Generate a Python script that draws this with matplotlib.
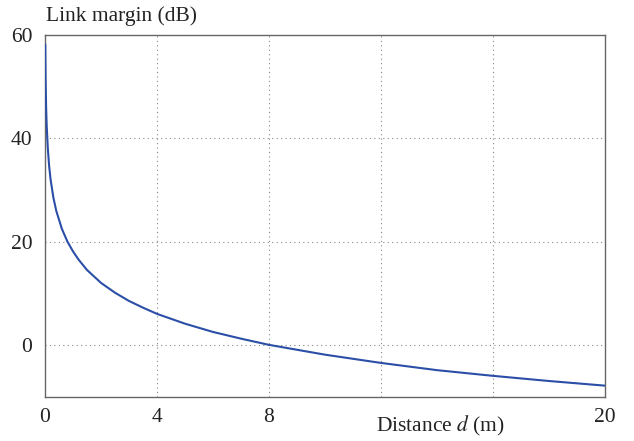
import matplotlib
matplotlib.use("Agg")
import matplotlib.pyplot as plt

# values
distance = [0.01, 0.02, 0.04, 0.06, 0.1, 0.15, 0.2, 0.3, 0.4, 0.6, 0.8, 1.0, 1.2,
            1.5, 2.0, 2.5, 3.0, 3.5, 4.0, 5.0, 6.0, 7.0, 8.0, 10.0, 12.0, 14.0,
            16.0, 18.0, 20.0]
margin = [58.1, 52.0, 46.0, 42.5, 38.1, 34.5, 32.0, 28.5, 26.0, 22.5, 20.0, 18.1,
          16.5, 14.5, 12.0, 10.1, 8.5, 7.2, 6.0, 4.1, 2.5, 1.2, 0.0, -1.9, -3.5,
          -4.9, -6.0, -7.0, -7.9]

x_ticks = [0, 4, 8, 20]
x_grid = [4, 8, 12, 16]
y_ticks = [0, 20, 40, 60]
y_grid = [0, 20, 40]

plt.rcParams["font.family"] = ["Liberation Serif", "DejaVu Serif"]
plt.rcParams["mathtext.fontset"] = "stix"

fig = plt.figure(figsize=(6.34, 4.41), dpi=100)
ax = fig.add_axes([45 / 634, 1 - 396.5 / 441, 560 / 634, 361.5 / 441])

ax.plot(distance, margin, color="#2b4ea6", lw=1.5, zorder=3)

ax.set_xlim(0, 20)
ax.set_ylim(-10, 60)

for x in x_grid:
    ax.axvline(x, color="#888888", lw=0.8, ls=(0, (1, 3)), zorder=1)
for y in y_grid:
    ax.axhline(y, color="#888888", lw=0.8, ls=(0, (1, 3)), zorder=1)

ax.set_xticks(x_ticks)
ax.set_yticks(y_ticks)
ax.tick_params(length=0, labelsize=15.5, colors="#222222", pad=8)
ax.tick_params(axis="y", pad=9)

for s in ax.spines.values():
    s.set_color("#666666")
    s.set_linewidth(1.0)

fig.text(46 / 634, 1 - 21 / 441, "Link margin (dB)", fontsize=15.5,
         color="#222222", ha="left", va="baseline")
fig.text(440 / 634, 1 - 431 / 441, r"Distance $d$ (m)", fontsize=15.5,
         color="#222222", ha="center", va="baseline")

fig.savefig("out.png", dpi=100)
